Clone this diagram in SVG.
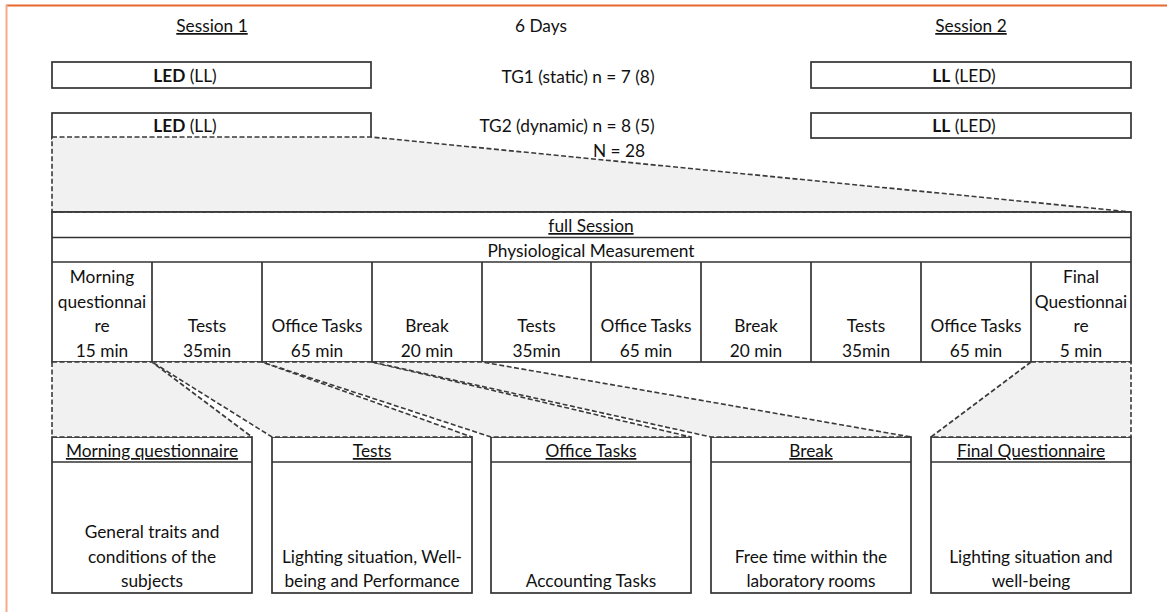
<svg xmlns="http://www.w3.org/2000/svg" width="1167" height="612" viewBox="0 0 1167 612">
<style>
text{font-family:Lato,"Liberation Sans",sans-serif;font-size:17.3px;fill:#111;text-anchor:middle}
.u{text-decoration:underline}
.b{font-weight:bold}
.box{fill:#fff;stroke:#333;stroke-width:1.7}
.ln{stroke:#333;stroke-width:1.7;fill:none}
.tz{fill:#f1f1f1;stroke:#3a3a3a;stroke-width:1.6;stroke-dasharray:5 2.5}
.dl{fill:none;stroke:#3a3a3a;stroke-width:1.6;stroke-dasharray:5 2.5}
</style>
<rect x="0" y="0" width="1167" height="612" fill="#fff"/>
<line x1="6" y1="5.5" x2="1167" y2="5.5" stroke="#e8692e" stroke-width="1.8"/>
<line x1="6.5" y1="5" x2="6.5" y2="612" stroke="#f5a98a" stroke-width="2"/>

<g id="headers">
<text x="212" y="32" class="u">Session 1</text>
<text x="541" y="32">6 Days</text>
<text x="971" y="32" class="u">Session 2</text>
<text x="578" y="83">TG1 (static) n = 7 (8)</text>
<text x="567" y="132">TG2 (dynamic) n = 8 (5)</text>
<text x="619" y="157">N = 28</text>
</g>

<g id="s1-tg1"><rect class="box" x="52" y="62" width="319" height="26"/><text x="185" y="82"><tspan class="b">LED</tspan> (LL)</text></g>
<g id="s1-tg2"><rect class="box" x="52" y="113" width="319" height="26"/><text x="185" y="132"><tspan class="b">LED</tspan> (LL)</text></g>
<g id="s2-tg1"><rect class="box" x="811" y="62" width="320" height="26"/><text x="964" y="82"><tspan class="b">LL</tspan> (LED)</text></g>
<g id="s2-tg2"><rect class="box" x="811" y="113" width="320" height="25"/><text x="964" y="132"><tspan class="b">LL</tspan> (LED)</text></g>

<g id="connectors">
<polygon class="tz" points="52,137 371,137 1131,212 52,212"/>
</g>

<g id="table">
<rect class="box" x="52" y="212" width="1079" height="150"/>
<line class="ln" x1="52" y1="237.5" x2="1131" y2="237.5"/>
<line class="ln" x1="52" y1="262" x2="1131" y2="262"/>
<g class="ln">
<line x1="152" y1="262" x2="152" y2="362"/>
<line x1="262" y1="262" x2="262" y2="362"/>
<line x1="372" y1="262" x2="372" y2="362"/>
<line x1="482" y1="262" x2="482" y2="362"/>
<line x1="591" y1="262" x2="591" y2="362"/>
<line x1="701" y1="262" x2="701" y2="362"/>
<line x1="811" y1="262" x2="811" y2="362"/>
<line x1="921" y1="262" x2="921" y2="362"/>
<line x1="1031" y1="262" x2="1031" y2="362"/>
</g>
<line class="dl" x1="52" y1="212" x2="1131" y2="212"/>
<text x="591" y="232" class="u">full Session</text>
<text x="591" y="257">Physiological Measurement</text>
<g id="cell-mq"><text x="102" y="283">Morning</text><text x="102" y="308">questionnai</text><text x="102" y="332">re</text><text x="102" y="357">15 min</text></g>
<g id="cell-t1"><text x="207" y="332">Tests</text><text x="207" y="357">35min</text></g>
<g id="cell-o1"><text x="317" y="332">Office Tasks</text><text x="317" y="357">65 min</text></g>
<g id="cell-b1"><text x="427" y="332">Break</text><text x="427" y="357">20 min</text></g>
<g id="cell-t2"><text x="536.5" y="332">Tests</text><text x="536.5" y="357">35min</text></g>
<g id="cell-o2"><text x="646" y="332">Office Tasks</text><text x="646" y="357">65 min</text></g>
<g id="cell-b2"><text x="756" y="332">Break</text><text x="756" y="357">20 min</text></g>
<g id="cell-t3"><text x="866" y="332">Tests</text><text x="866" y="357">35min</text></g>
<g id="cell-o3"><text x="976" y="332">Office Tasks</text><text x="976" y="357">65 min</text></g>
<g id="cell-fq"><text x="1081" y="283">Final</text><text x="1081" y="308">Questionnai</text><text x="1081" y="332">re</text><text x="1081" y="357">5 min</text></g>
</g>

<g id="detail-mq"><rect class="box" x="52" y="437" width="200" height="156"/><line class="ln" x1="52" y1="462" x2="252" y2="462"/><text x="152" y="457" class="u">Morning questionnaire</text><text x="152" y="538">General traits and</text><text x="152" y="563">conditions of the</text><text x="152" y="587">subjects</text></g>
<g id="detail-tests"><rect class="box" x="272" y="437" width="200" height="156"/><line class="ln" x1="272" y1="462" x2="472" y2="462"/><text x="372" y="457" class="u">Tests</text><text x="372" y="563">Lighting situation, Well-</text><text x="372" y="587">being and Performance</text></g>
<g id="detail-office"><rect class="box" x="491" y="437" width="200" height="156"/><line class="ln" x1="491" y1="462" x2="691" y2="462"/><text x="591" y="457" class="u">Office Tasks</text><text x="591" y="587">Accounting Tasks</text></g>
<g id="detail-break"><rect class="box" x="711" y="437" width="200" height="156"/><line class="ln" x1="711" y1="462" x2="911" y2="462"/><text x="811" y="457" class="u">Break</text><text x="811" y="563">Free time within the</text><text x="811" y="587">laboratory rooms</text></g>
<g id="detail-fq"><rect class="box" x="931" y="437" width="200" height="156"/><line class="ln" x1="931" y1="462" x2="1131" y2="462"/><text x="1031" y="457" class="u">Final Questionnaire</text><text x="1031" y="563">Lighting situation and</text><text x="1031" y="587">well-being</text></g>

<g id="zoom-connectors">
<polygon class="tz" points="52,362 152,362 252,437 52,437"/>
<polygon class="tz" points="152,362 262,362 472,437 272,437"/>
<polygon class="tz" points="262,362 372,362 691,437 491,437"/>
<polygon class="tz" points="372,362 482,362 911,437 711,437"/>
<polygon class="tz" points="1031,362 1131,362 1131,437 931,437"/>
</g>
</svg>
